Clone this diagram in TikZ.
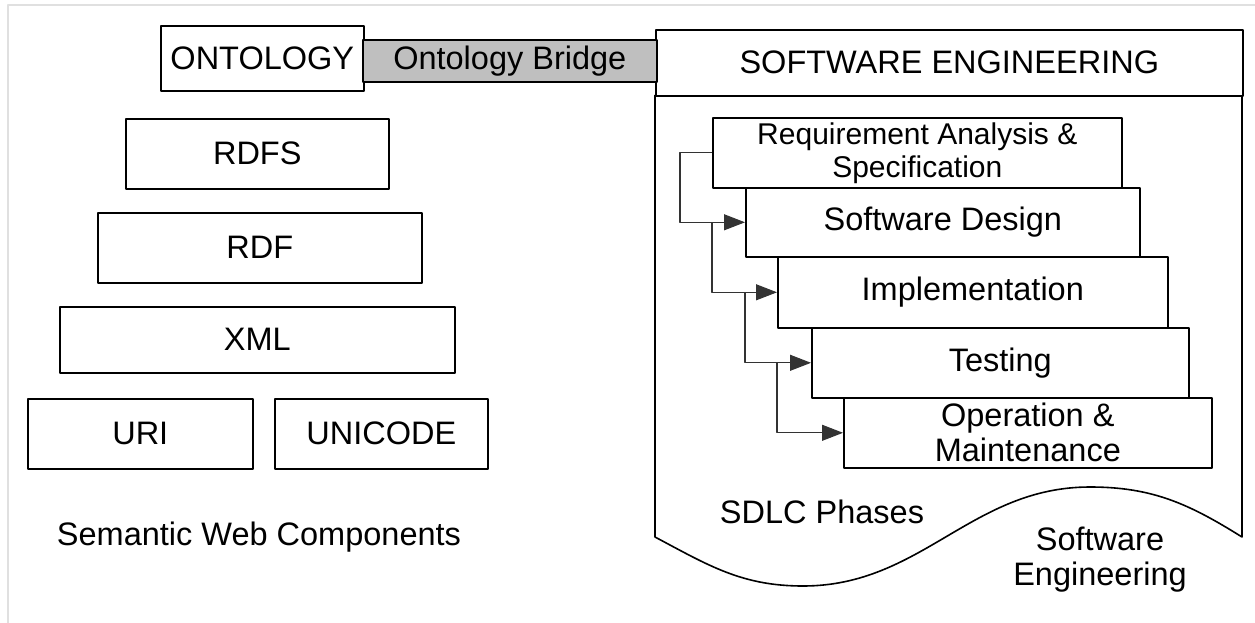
\documentclass[tikz,border=0pt]{standalone}
\usepackage{fontspec}
\setmainfont{Liberation Sans}
\usetikzlibrary{arrows.meta}
\begin{document}
\begin{tikzpicture}[x=1pt,y=-1pt,line join=round,>={Triangle[length=21pt,width=16pt]},
	font=\fontsize{32.5}{35}\selectfont,
	box/.style={draw,line width=1.6pt,fill=white,inner sep=0pt,anchor=north west,align=center},
	lbl/.style={inner sep=0pt,align=center},
	link/.style={draw=black!80,line width=1.1pt}]
	\useasboundingbox (0,0) rectangle (1255,623);
	% faint frame of the screenshot
	\draw[black!12,line width=1.5pt] (8,623) -- (8,5) -- (1255,5);
	% semantic web stack
	\foreach \nm/\x/\y/\w/\h/\txt in {onto/160/25/203/65/ONTOLOGY, rdfs/125/118/263/70/RDFS,
		rdf/97/212/324/70/RDF, xml/59/306/395/66/XML, uri/27/398/225/70/URI, uni/274/398/213/70/UNICODE}
	{
		\node[box,minimum width=\w pt,minimum height=\h pt] (\nm) at (\x,\y) {\txt};
	}
	\node[lbl] (swc) at (259,537) {Semantic Web Components};
	% software engineering side
	\draw[line width=1.6pt] (655,95) -- (655,537) to[out=-28,in=180] (803,586)
		to[out=0,in=180] (1090,487) to[out=0,in=148] (1242,537) -- (1242,95);
	\node[box,minimum width=587pt,minimum height=66pt] (se) at (655,29) {SOFTWARE ENGINEERING};
	\node[box,fill=black!25,minimum width=294pt,minimum height=42pt] (bridge) at (362,39) {Ontology Bridge};
	% SDLC phases
	\node[box,minimum width=409pt,minimum height=70pt,font=\fontsize{30}{33}\selectfont] (req) at (712,117)
		{Requirement Analysis \&\\Specification};
	\foreach \nm/\x/\y/\w/\h/\txt in {design/745/187/394/69/{Software Design}, impl/777/256/390/71/Implementation,
		test/811/327/377/70/Testing, oper/843/397/368/70/{Operation \&\\Maintenance}}
	{
		\node[box,minimum width=\w pt,minimum height=\h pt] (\nm) at (\x,\y) {\txt};
	}
	\draw[link,->] (req.west) -- ++(-32,0) |- (design.west);
	\draw[link,->] (req.west |- design.west) |- (impl.west);
	\draw[link,->] (design.west |- impl.west) |- (test.west);
	\draw[link,->] (impl.west |- test.west) |- (oper.west);
	\node[lbl] (sdlc) at (822,512) {SDLC Phases};
	\node[lbl] (seng) at (1100,560) {Software\\Engineering};
\end{tikzpicture}
\end{document}
